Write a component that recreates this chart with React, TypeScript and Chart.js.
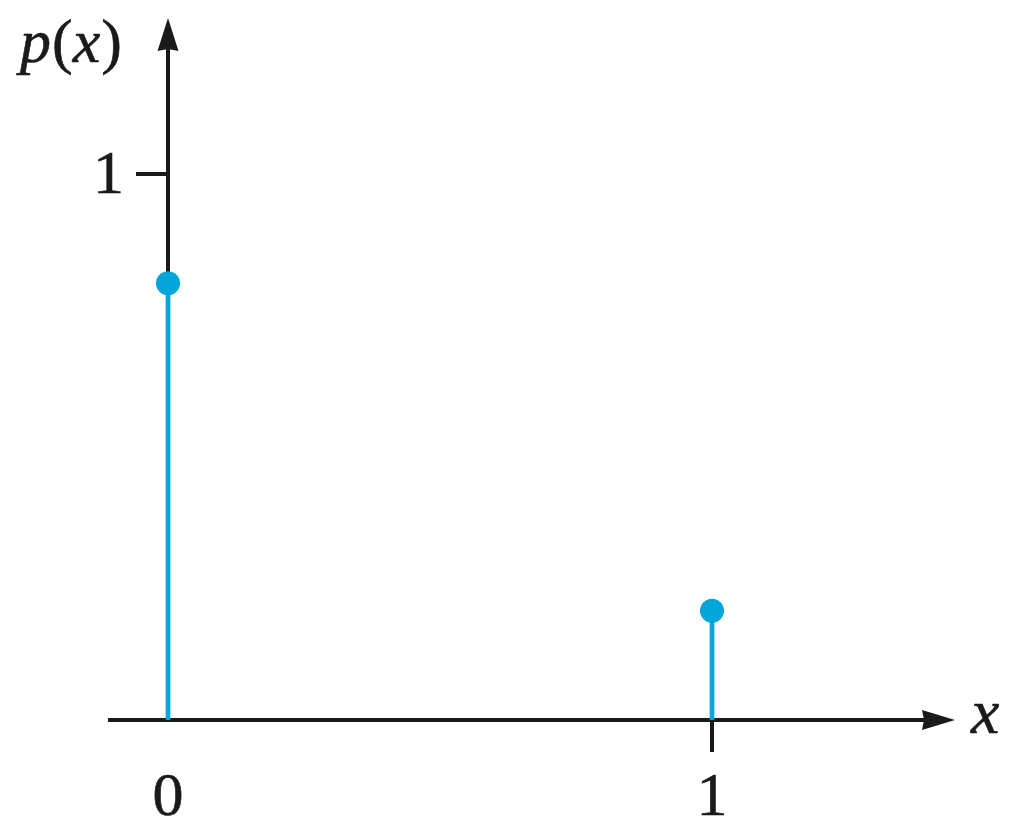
import React, { useEffect, useRef } from "react";
import { Chart, registerables } from "chart.js";

Chart.register(...registerables);

// Data
const xValues = [0, 1];
const probabilities = [0.8, 0.2];
const xTickValues = [0, 1];
const xTickLabels = ["0", "1"];
const yTickValues = [1];
const yTickLabels = ["1"];

const BLUE = "#00A6D9";
const INK = "#1a1a1a";
const SERIF = "'Liberation Serif', serif";

function boldText(ctx: CanvasRenderingContext2D, t: string, x: number, y: number) {
  ctx.fillText(t, x, y);
  ctx.save();
  ctx.lineWidth = 0.6;
  ctx.lineJoin = "round";
  ctx.strokeText(t, x, y);
  ctx.restore();
}

const axesPlugin = {
  id: "mathAxes",
  beforeDatasetsDraw(chart: any) {
    const { ctx, chartArea, scales } = chart;
    const xs = scales.x;
    const ys = scales.y;
    const x0 = xs.getPixelForValue(0);
    const y0 = ys.getPixelForValue(0);
    ctx.save();
    ctx.strokeStyle = INK;
    ctx.fillStyle = INK;
    ctx.lineWidth = 4;
    ctx.lineCap = "butt";
    // x axis
    const xEnd = chartArea.right;
    ctx.beginPath();
    ctx.moveTo(chartArea.left, y0);
    ctx.lineTo(xEnd - 20, y0);
    ctx.stroke();
    ctx.beginPath();
    ctx.moveTo(xEnd, y0);
    ctx.lineTo(xEnd - 33, y0 - 10);
    ctx.lineTo(xEnd - 31, y0);
    ctx.lineTo(xEnd - 33, y0 + 10);
    ctx.closePath();
    ctx.fill();
    // y axis
    const yEnd = chartArea.top;
    ctx.beginPath();
    ctx.moveTo(x0, y0);
    ctx.lineTo(x0, yEnd + 20);
    ctx.stroke();
    ctx.beginPath();
    ctx.moveTo(x0, yEnd);
    ctx.lineTo(x0 - 10.5, yEnd + 33);
    ctx.lineTo(x0, yEnd + 31);
    ctx.lineTo(x0 + 10.5, yEnd + 33);
    ctx.closePath();
    ctx.fill();

    // y ticks
    ctx.font = `62px ${SERIF}`;
    ctx.textAlign = "right";
    ctx.textBaseline = "alphabetic";
    yTickValues.forEach((v, i) => {
      const py = ys.getPixelForValue(v);
      ctx.lineWidth = 4;
      ctx.beginPath();
      ctx.moveTo(x0 - 32, py);
      ctx.lineTo(x0, py);
      ctx.stroke();
      boldText(ctx, yTickLabels[i], x0 - 44, py + 19);
    });

    // x ticks
    ctx.textAlign = "center";
    xTickValues.forEach((v, i) => {
      const px = xs.getPixelForValue(v);
      if (v !== 0) {
        ctx.lineWidth = 4;
        ctx.beginPath();
        ctx.moveTo(px, y0);
        ctx.lineTo(px, y0 + 32);
        ctx.stroke();
      }
      boldText(ctx, xTickLabels[i], px, y0 + 95);
    });

    // axis titles
    ctx.textAlign = "left";
    ctx.font = `italic 64px ${SERIF}`;
    boldText(ctx, "x", xEnd + 16, y0 + 13);

    // p(x)
    let cx = 20;
    const by = 62;
    const parts: [string, boolean][] = [
      ["p", true],
      ["(", false],
      ["x", true],
      [")", false],
    ];
    parts.forEach(([t, it]) => {
      ctx.font = `${it ? "italic " : ""}62px ${SERIF}`;
      boldText(ctx, t, cx, by);
      cx += ctx.measureText(t).width + (it ? 1 : 0);
    });
    ctx.restore();
  },
};

export default function App() {
  const ref = useRef<HTMLCanvasElement | null>(null);
  useEffect(() => {
    if (!ref.current) return;
    let chart: Chart | null = null;
    let cancelled = false;
    const build = () => {
      if (cancelled || !ref.current) return;
      const pts = xValues.map((x, i) => ({ x, y: probabilities[i] }));
      chart = new Chart(ref.current, {
        type: "scatter",
        data: {
          datasets: [
            {
              type: "bar",
              data: pts,
              backgroundColor: BLUE,
              borderWidth: 0,
              barThickness: 4,
              order: 2,
            } as any,
            {
              type: "scatter",
              data: pts,
              backgroundColor: BLUE,
              borderWidth: 0,
              pointRadius: 12,
              pointHoverRadius: 12,
              order: 1,
            },
          ],
        },
        options: {
          animation: false,
          responsive: false,
          maintainAspectRatio: false,
          layout: { padding: { left: 108, right: 69, top: 18, bottom: 116 } },
          plugins: { legend: { display: false }, tooltip: { enabled: false } },
          events: [],
          scales: {
            x: { type: "linear", min: -0.1103, max: 1.4467, display: false, offset: false },
            y: { type: "linear", min: 0, max: 1.2857, display: false },
          },
        },
        plugins: [axesPlugin],
      });
    };
    const fonts = (document as any).fonts;
    if (fonts && fonts.load) {
      Promise.all([
        fonts.load(`60px ${SERIF}`, "01"),
        fonts.load(`italic 60px ${SERIF}`, "px"),
      ]).then(build, build);
    } else build();
    return () => {
      cancelled = true;
      if (chart) chart.destroy();
    };
  }, []);
  return (
    <div style={{ position: "absolute", left: 0, top: 0, width: 1024, height: 836, background: "#fff" }}>
      <canvas ref={ref} width={1024} height={836} style={{ display: "block" }} />
    </div>
  );
}
